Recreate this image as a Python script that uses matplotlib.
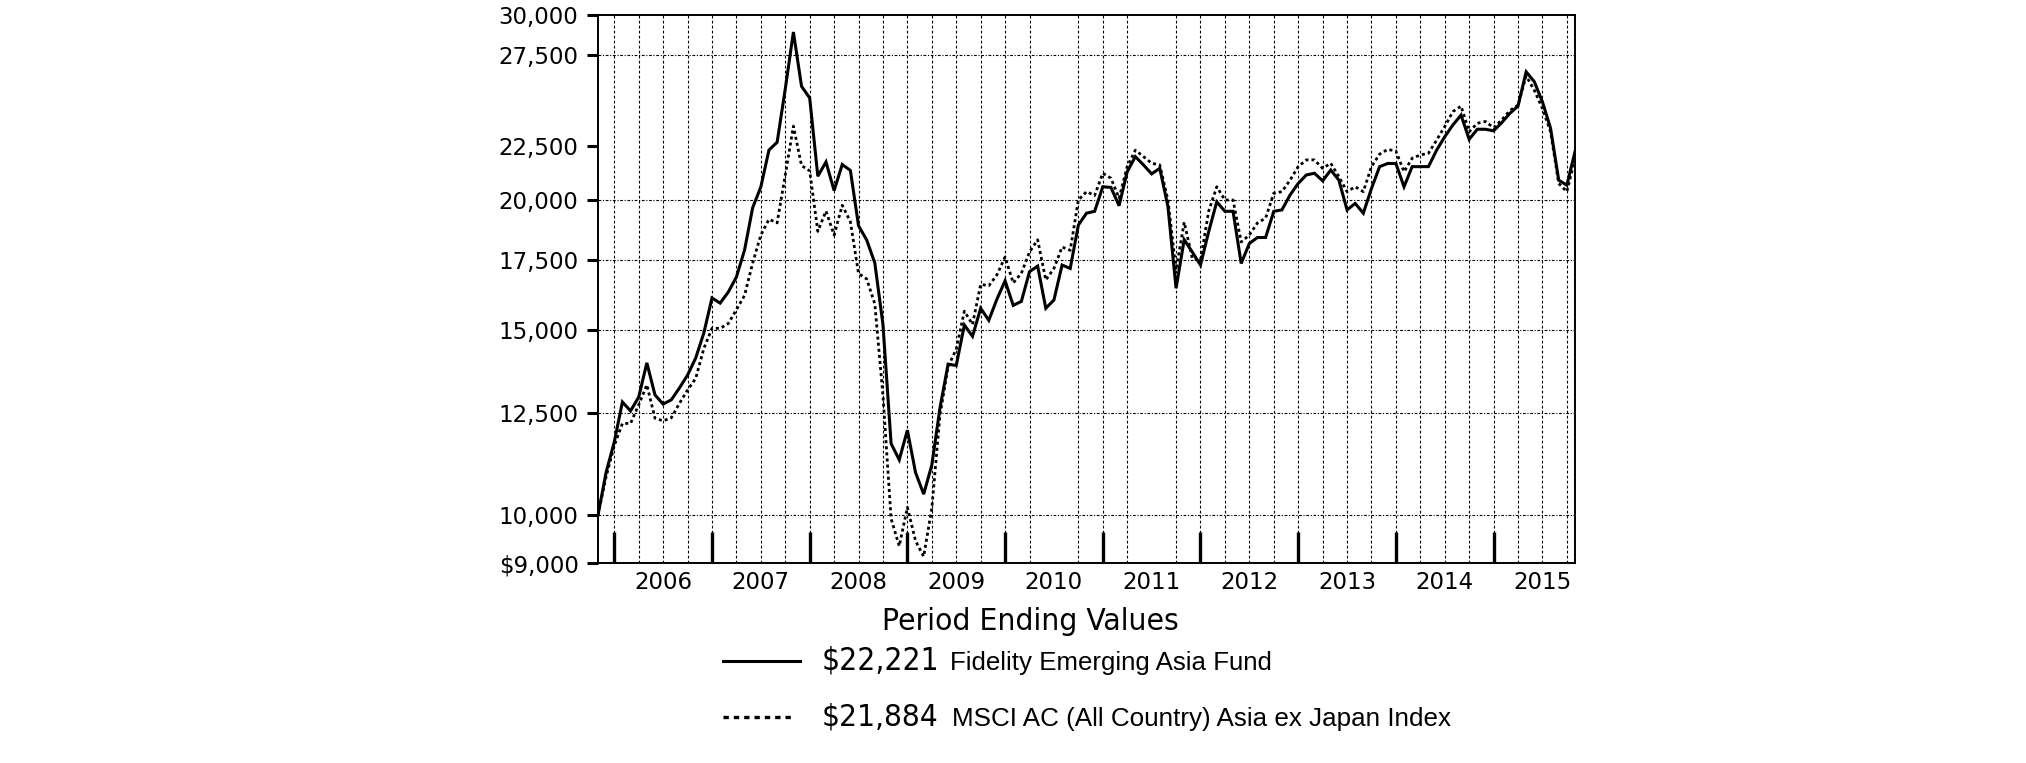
import numpy as np
import matplotlib
matplotlib.use('Agg')
import matplotlib.pyplot as plt
from matplotlib.ticker import FixedLocator, FixedFormatter, NullLocator
from matplotlib.lines import Line2D

# ---------------- data (monthly, Oct 2005 -> Oct 2015, hypothetical $10,000) ----------------
fund = [10000, 10990, 11740, 12820, 12570, 12960, 13970, 13020, 12760, 12880,
        13220, 13600, 14120, 14920, 16110, 15930, 16320, 16870, 17900, 19650,
        20560, 22300, 22680, 25500, 28900, 25650, 25000, 21050, 21720, 20400,
        21600, 21320, 18880, 18300, 17400, 15200, 11700, 11290, 12050, 10980,
        10470, 11160, 12650, 13930, 13890, 15180, 14810, 15750, 15340, 16070,
        16730, 15850, 15990, 17070, 17280, 15750, 16040, 17320, 17190, 18910,
        19410, 19490, 20570, 20540, 19730, 21260, 21980, 21580, 21160, 21420,
        19700, 16460, 18310, 17820, 17320, 18630, 19900, 19490, 19490, 17380,
        18160, 18400, 18400, 19490, 19550, 20200, 20720, 21110, 21190, 20840,
        21340, 20870, 19550, 19830, 19410, 20490, 21500, 21650, 21650, 20570,
        21500, 21500, 21500, 22290, 22960, 23560, 24080, 22830, 23340, 23340,
        23260, 23680, 24170, 24560, 26480, 25910, 24790, 23390, 20870, 20640,
        22221]
index = [10000, 10880, 11650, 12230, 12230, 12740, 13310, 12370, 12300, 12380,
         12780, 13160, 13500, 14420, 15070, 15070, 15230, 15700, 16200, 17400,
         18500, 19150, 19000, 21100, 23500, 21550, 21300, 18650, 19500, 18500,
         19750, 19050, 17000, 16800, 15900, 13000, 9920, 9340, 10170, 9450,
         9130, 10150, 12450, 13850, 14400, 15650, 15200, 16600, 16550, 16950,
         17630, 16650, 17010, 17820, 18310, 16760, 17190, 18020, 17890, 19980,
         20350, 20180, 21190, 20960, 20060, 21500, 22290, 21980, 21660, 21580,
         19980, 17130, 19030, 17570, 17500, 19490, 20570, 19980, 19980, 18220,
         18500, 19000, 19200, 20280, 20350, 20870, 21500, 21820, 21820, 21420,
         21660, 21030, 20350, 20570, 20350, 21500, 22100, 22330, 22250, 21260,
         21900, 22060, 22140, 22790, 23480, 24260, 24560, 23210, 23650, 23740,
         23420, 23820, 24320, 24610, 26240, 25430, 24430, 23210, 20720, 20350,
         21884]
years = ['2006', '2007', '2008', '2009', '2010', '2011', '2012', '2013', '2014', '2015']
y_ticks = [9000, 10000, 12500, 15000, 17500, 20000, 22500, 27500, 30000]
y_tick_labels = ['$9,000', '10,000', '12,500', '15,000', '17,500', '20,000',
                 '22,500', '27,500', '30,000']
grid_y = [10000, 12500, 15000, 17500, 20000, 27500]
title_text = 'Period Ending Values'
legend_values = ['$22,221', '$21,884']
legend_names = ['Fidelity Emerging Asia Fund', 'MSCI AC (All Country) Asia ex Japan Index']

# month index: 0 = Oct 2005; Dec 2005 = 2
months = np.arange(len(fund))
year_ends = [2 + 12 * k for k in range(9 + 1)]          # Dec 2005 .. Dec 2014
year_mids = [8 + 12 * k for k in range(len(years))]     # mid-year label positions
quarters = [2 + 3 * k for k in range(40) if (2 + 3 * k) not in (56, 68)]

W, H = 2026, 763
fig = plt.figure(figsize=(W / 100, H / 100), dpi=100)
fig.patch.set_facecolor('white')

L, R, T, B = 598, 1575, 15, 563
ax = fig.add_axes([L / W, (H - B) / H, (R - L) / W, (B - T) / H])
ax.set_yscale('log')
ax.set_xlim(0, len(fund) - 1)
ax.set_ylim(9000, 30000)

# grid
for q in quarters:
    ax.axvline(q, color='black', lw=0.8, ls=(0, (2.5, 2.0)), zorder=1)
for g in grid_y:
    ax.axhline(g, color='black', lw=0.8, ls=(0, (2.5, 1.5, 1.0, 1.5)), zorder=1)

ax.plot(months, index, color='black', lw=2.0, ls=(0, (1.1, 1.1)), zorder=3,
        solid_capstyle='butt', dash_capstyle='butt')
ax.plot(months, fund, color='black', lw=2.2, ls='-', zorder=4, solid_joinstyle='miter')

# y axis
ax.yaxis.set_major_locator(FixedLocator(y_ticks))
ax.yaxis.set_major_formatter(FixedFormatter(y_tick_labels))
ax.yaxis.set_minor_locator(NullLocator())
ax.tick_params(axis='y', which='major', direction='out', length=8, width=2.2,
               labelsize=16.5, pad=6, colors='black')

# x axis
ax.xaxis.set_major_locator(FixedLocator(year_ends))
ax.xaxis.set_major_formatter(FixedFormatter([''] * len(year_ends)))
ax.xaxis.set_minor_locator(FixedLocator(year_mids))
ax.xaxis.set_minor_formatter(FixedFormatter(years))
ax.tick_params(axis='x', which='major', direction='in', length=22, width=2.4,
               colors='black')
ax.tick_params(axis='x', which='minor', length=0, labelsize=16.5, pad=6)

for s in ax.spines.values():
    s.set_linewidth(1.4)
    s.set_color('black')

renderer = fig.canvas.get_renderer()


def fit_text(x, y, s, target_w, size, ha='left', **kw):
    t = fig.text(x / W, 1 - y / H, s, ha=ha, va='center', fontsize=size, **kw)
    w = t.get_window_extent(renderer).width
    if w > 0:
        t.set_fontsize(size * target_w / w)
    return t


cond = dict(family='DejaVu Sans', stretch='condensed')
narrow = dict(family=['Liberation Sans Narrow', 'Liberation Sans', 'DejaVu Sans'])

fit_text(1030, 621, title_text, 296, 20, ha='center', **cond)

rows_y = [661, 717]
for k in range(2):
    y = rows_y[k]
    if k == 0:
        ln = Line2D([723 / W, 800 / W], [1 - y / H, 1 - y / H], transform=fig.transFigure,
                    color='black', lw=2.2)
    else:
        ln = Line2D([723 / W, 793 / W], [1 - y / H, 1 - y / H], transform=fig.transFigure,
                    color='black', lw=2.4, ls=(0, (1.6, 1.5)), dash_capstyle='butt')
    fig.add_artist(ln)
    fit_text(822, y, legend_values[k], 117, 20, **cond)

fit_text(950, rows_y[0] + 2, legend_names[0], 324, 15, **narrow)
fit_text(952, rows_y[1] + 2, legend_names[1], 500, 15, **narrow)

fig.savefig('out.png', dpi=100, facecolor='white')
